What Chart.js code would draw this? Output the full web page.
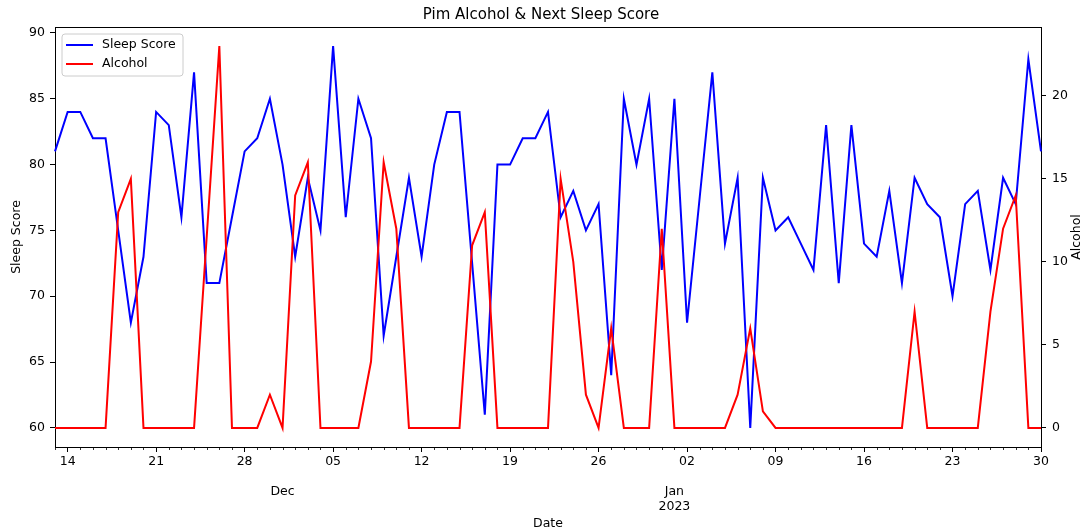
<!DOCTYPE html>
<html>
<head>
<meta charset="utf-8">
<title>Pim Alcohol &amp; Next Sleep Score</title>
<script src="https://cdn.jsdelivr.net/npm/chart.js@4/dist/chart.umd.min.js"></script>
<style>
  html, body { margin: 0; padding: 0; background: #fff; }
  #wrap { width: 1082px; height: 531px; }
</style>
</head>
<body>
<div id="wrap"><canvas id="chart" width="1082" height="531"></canvas></div>
<script>
// Daily records, 13 Nov 2022 – 30 Jan 2023
const dates = [
  '2022-11-13','2022-11-14','2022-11-15','2022-11-16','2022-11-17','2022-11-18','2022-11-19',
  '2022-11-20','2022-11-21','2022-11-22','2022-11-23','2022-11-24','2022-11-25','2022-11-26',
  '2022-11-27','2022-11-28','2022-11-29','2022-11-30','2022-12-01','2022-12-02','2022-12-03',
  '2022-12-04','2022-12-05','2022-12-06','2022-12-07','2022-12-08','2022-12-09','2022-12-10',
  '2022-12-11','2022-12-12','2022-12-13','2022-12-14','2022-12-15','2022-12-16','2022-12-17',
  '2022-12-18','2022-12-19','2022-12-20','2022-12-21','2022-12-22','2022-12-23','2022-12-24',
  '2022-12-25','2022-12-26','2022-12-27','2022-12-28','2022-12-29','2022-12-30','2022-12-31',
  '2023-01-01','2023-01-02','2023-01-03','2023-01-04','2023-01-05','2023-01-06','2023-01-07',
  '2023-01-08','2023-01-09','2023-01-10','2023-01-11','2023-01-12','2023-01-13','2023-01-14',
  '2023-01-15','2023-01-16','2023-01-17','2023-01-18','2023-01-19','2023-01-20','2023-01-21',
  '2023-01-22','2023-01-23','2023-01-24','2023-01-25','2023-01-26','2023-01-27','2023-01-28',
  '2023-01-29','2023-01-30'
];

const sleepScore = [
  81, 84, 84, 82, 82, 75, 68,
  73, 84, 83, 76, 87, 71, 71,
  76, 81, 82, 85, 80, 73, 79,
  75, 89, 76, 85, 82, 67, 73,
  79, 73, 80, 84, 84, 72.5, 61,
  80, 80, 82, 82, 84, 76, 78,
  75, 77, 64, 85, 80, 85, 72,
  85, 68, 77.5, 87, 74, 79, 60,
  79, 75, 76, 74, 72, 83, 71,
  83, 74, 73, 78, 71, 79, 77,
  76, 70, 77, 78, 72, 79, 77,
  88, 81
];

const alcohol = [
  0, 0, 0, 0, 0, 13, 15,
  0, 0, 0, 0, 0, 11.5, 23,
  0, 0, 0, 2, 0, 14, 16,
  0, 0, 0, 0, 4, 16, 12,
  0, 0, 0, 0, 0, 11, 13,
  0, 0, 0, 0, 0, 15, 10,
  2, 0, 6, 0, 0, 0, 12,
  0, 0, 0, 0, 0, 2, 6,
  1, 0, 0, 0, 0, 0, 0,
  0, 0, 0, 0, 0, 7, 0,
  0, 0, 0, 0, 7, 12, 14,
  0, 0
];

// Labelled weekly ticks and month markers on the date axis
const weekTicks = ['2022-11-14','2022-11-21','2022-11-28','2022-12-05','2022-12-12','2022-12-19',
                   '2022-12-26','2023-01-02','2023-01-09','2023-01-16','2023-01-23','2023-01-30'];
const weekTickLabels = ['14','21','28','05','12','19','26','02','09','16','23','30'];
const monthTicks = ['2022-12-01','2023-01-01'];
const monthTickLabels = [['Dec'], ['Jan','2023']];

const sleepTicks = [60, 65, 70, 75, 80, 85, 90];
const alcoholTicks = [0, 5, 10, 15, 20];

const FONT = 'DejaVu Sans';
Chart.defaults.font.family = FONT;
Chart.defaults.font.size = 12.5;
Chart.defaults.color = '#000';

const isWeek = i => weekTicks.indexOf(dates[i]) !== -1;

// Top spine, minor day ticks, right axis title and the boxed legend
const decorations = {
  id: 'decorations',
  afterDraw(chart) {
    const ctx = chart.ctx;
    const area = chart.chartArea;
    const xs = chart.scales.x;

    ctx.save();
    ctx.strokeStyle = '#000';
    ctx.lineWidth = 1;
    ctx.beginPath();
    ctx.moveTo(area.left, Math.round(area.top) + 0.5);
    ctx.lineTo(area.right, Math.round(area.top) + 0.5);
    ctx.stroke();

    // minor ticks, one per day
    ctx.lineWidth = 0.8;
    ctx.beginPath();
    dates.forEach((d, i) => {
      if (isWeek(i)) return;
      const x = Math.round(xs.getPixelForValue(i)) + 0.5;
      ctx.moveTo(x, area.bottom);
      ctx.lineTo(x, area.bottom + 3);
    });
    ctx.stroke();

    // right axis title
    ctx.fillStyle = '#000';
    ctx.font = '12.5px "' + FONT + '"';
    ctx.textAlign = 'center';
    ctx.textBaseline = 'middle';
    ctx.translate(1077, (area.top + area.bottom) / 2);
    ctx.rotate(-Math.PI / 2);
    ctx.fillText('Alcohol', 0, 0);
    ctx.restore();

    // legend
    const lx = area.left + 7, ly = area.top + 7, lw = 121, lh = 42, r = 3;
    ctx.save();
    ctx.beginPath();
    ctx.moveTo(lx + r, ly);
    ctx.lineTo(lx + lw - r, ly);
    ctx.arcTo(lx + lw, ly, lx + lw, ly + r, r);
    ctx.lineTo(lx + lw, ly + lh - r);
    ctx.arcTo(lx + lw, ly + lh, lx + lw - r, ly + lh, r);
    ctx.lineTo(lx + r, ly + lh);
    ctx.arcTo(lx, ly + lh, lx, ly + lh - r, r);
    ctx.lineTo(lx, ly + r);
    ctx.arcTo(lx, ly, lx + r, ly, r);
    ctx.closePath();
    ctx.fillStyle = 'rgba(255,255,255,0.8)';
    ctx.fill();
    ctx.strokeStyle = '#cccccc';
    ctx.lineWidth = 1;
    ctx.stroke();

    ctx.font = '12.5px "' + FONT + '"';
    ctx.textAlign = 'left';
    ctx.textBaseline = 'middle';
    chart.data.datasets.forEach((ds, k) => {
      const y = ly + 11 + k * 19;
      ctx.strokeStyle = ds.borderColor;
      ctx.lineWidth = 2;
      ctx.beginPath();
      ctx.moveTo(lx + 4, y);
      ctx.lineTo(lx + 31, y);
      ctx.stroke();
      ctx.fillStyle = '#000';
      ctx.fillText(ds.label, lx + 40, y);
    });
    ctx.restore();
  }
};

new Chart(document.getElementById('chart'), {
  type: 'line',
  data: {
    labels: dates,
    datasets: [
      {
        label: 'Sleep Score',
        data: sleepScore,
        yAxisID: 'y',
        borderColor: '#0000ff',
        backgroundColor: '#0000ff',
        borderWidth: 2,
        pointRadius: 0,
        tension: 0,
        order: 1
      },
      {
        label: 'Alcohol',
        data: alcohol,
        yAxisID: 'y1',
        borderColor: '#ff0000',
        backgroundColor: '#ff0000',
        borderWidth: 2,
        pointRadius: 0,
        tension: 0,
        order: 0
      }
    ]
  },
  options: {
    responsive: false,
    animation: false,
    devicePixelRatio: 1,
    layout: { padding: 0 },
    plugins: {
      legend: { display: false },
      tooltip: { enabled: false },
      title: {
        display: true,
        text: 'Pim Alcohol & Next Sleep Score',
        color: '#000',
        font: { size: 15, weight: 'normal' },
        padding: { top: 6, bottom: 3 }
      }
    },
    scales: {
      x: {
        type: 'category',
        offset: false,
        grid: {
          display: true,
          drawOnChartArea: false,
          drawTicks: true,
          tickLength: 5,
          tickWidth: 1,
          tickColor: ctx => isWeek(ctx.index) ? '#000' : 'rgba(0,0,0,0)'
        },
        border: { display: true, color: '#000', width: 1 },
        ticks: {
          autoSkip: false,
          maxRotation: 0,
          minRotation: 0,
          padding: 2,
          color: '#000',
          callback: function (value, index) {
            const d = dates[index];
            const w = weekTicks.indexOf(d);
            if (w !== -1) return weekTickLabels[w];
            const m = monthTicks.indexOf(d);
            if (m !== -1) return ['', ''].concat(monthTickLabels[m]);
            return '';
          }
        },
        title: {
          display: true,
          text: 'Date',
          color: '#000',
          padding: { top: 0, bottom: 0 }
        },
        afterFit: s => { s.height = 84; }
      },
      y: {
        position: 'left',
        min: 58.55,
        max: 90.45,
        afterBuildTicks: s => { s.ticks = sleepTicks.map(v => ({ value: v })); },
        grid: { drawOnChartArea: false, tickLength: 5, tickColor: '#000', tickWidth: 1 },
        border: { display: true, color: '#000', width: 1 },
        ticks: { padding: 5, color: '#000' },
        title: {
          display: true,
          text: 'Sleep Score',
          color: '#000',
          padding: { top: 9.5, bottom: 0 }
        },
        afterFit: s => { s.width = 55; }
      },
      y1: {
        position: 'right',
        min: -1.15,
        max: 24.15,
        afterBuildTicks: s => { s.ticks = alcoholTicks.map(v => ({ value: v })); },
        grid: { drawOnChartArea: false, tickLength: 5, tickColor: '#000', tickWidth: 1 },
        border: { display: true, color: '#000', width: 1 },
        ticks: { padding: 6, color: '#000' },
        title: { display: false },
        afterFit: s => { s.width = 41; }
      }
    }
  },
  plugins: [decorations]
});
</script>
</body>
</html>
